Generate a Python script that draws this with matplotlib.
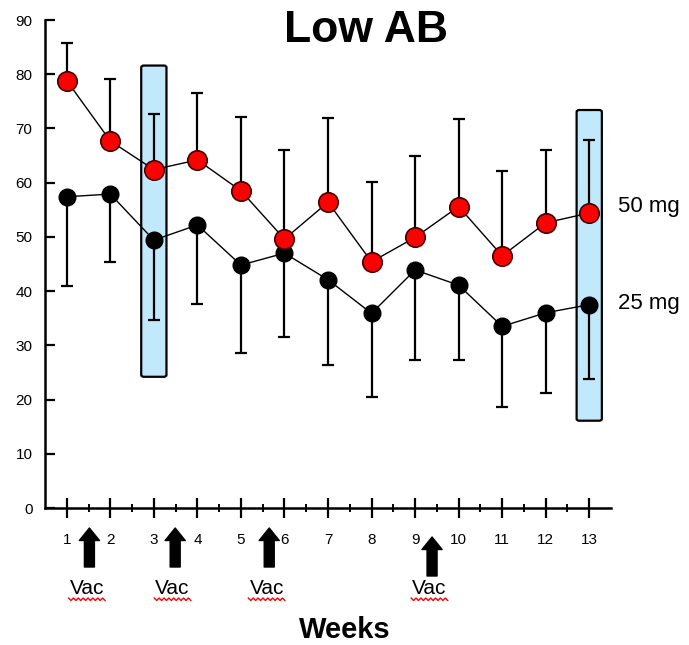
import numpy as np
import matplotlib.pyplot as plt
from matplotlib.patches import FancyBboxPatch
from matplotlib.transforms import blended_transform_factory

plt.rcParams['font.family'] = ['Liberation Sans', 'DejaVu Sans']

weeks = np.arange(1, 14)

# 50 mg group: means and upper error bar ends
mean_50 = [78.8, 67.7, 62.4, 64.2, 58.5, 49.6, 56.4, 45.4, 49.9, 55.6, 46.5, 52.6, 54.4]
upper_50 = [85.7, 79.1, 72.6, 76.5, 72.2, 66.1, 71.9, 60.1, 64.9, 71.8, 62.2, 66.1, 67.8]

# 25 mg group: means and lower error bar ends
mean_25 = [57.4, 57.9, 49.4, 52.2, 44.8, 47.0, 42.1, 35.9, 43.9, 41.1, 33.5, 36.0, 37.5]
lower_25 = [41.0, 45.4, 34.7, 37.6, 28.5, 31.6, 26.4, 20.5, 27.3, 27.3, 18.7, 21.2, 23.8]

# highlighted weeks (x range, y range of the shaded bars)
highlight_weeks = [3, 13]
highlight_low = [24.2, 16.1]
highlight_high = [81.6, 73.4]

# vaccination times (in weeks)
vac_weeks = [1.52, 3.49, 5.65, 9.39]

W, H = 689, 645
fig = plt.figure(figsize=(W / 100, H / 100), dpi=100)
ax = fig.add_axes([45 / W, 1 - 508 / H, (611 - 45) / W, (508 - 20) / H])

for wk, lo, hi in zip(highlight_weeks, highlight_low, highlight_high):
    box = FancyBboxPatch((wk - 0.29, lo), 0.58, hi - lo,
                         boxstyle="round,pad=0,rounding_size=0.06",
                         mutation_aspect=6,
                         facecolor="#c2e8fb", edgecolor="black",
                         linewidth=1.6, zorder=1)
    ax.add_patch(box)

m50 = np.array(mean_50)
m25 = np.array(mean_25)
ax.errorbar(weeks, m50, yerr=[np.zeros_like(m50), np.array(upper_50) - m50],
            fmt="none", ecolor="black", elinewidth=1.6, capsize=4, capthick=1.6,
            zorder=2)
ax.errorbar(weeks, m25, yerr=[m25 - np.array(lower_25), np.zeros_like(m25)],
            fmt="none", ecolor="black", elinewidth=1.6, capsize=4, capthick=1.6,
            zorder=2)

ax.plot(weeks, m25, "-", color="black", linewidth=1.0, zorder=3)
ax.plot(weeks, m25, "o", color="black", markersize=12, markeredgecolor="black",
        zorder=4)
ax.plot(weeks, m50, "-", color="black", linewidth=1.0, zorder=3)
ax.plot(weeks, m50, "o", markerfacecolor="#ff0000", markeredgecolor="#400000",
        markeredgewidth=1.2, markersize=14, zorder=5)

ax.set_xlim(0.5, 13.5)
ax.set_ylim(0, 90)
ax.set_xticks(weeks)
ax.set_xticks(np.arange(1.5, 13.5, 1), minor=True)
ax.set_yticks(np.arange(0, 91, 10))
ax.tick_params(axis="x", which="major", direction="inout", length=14, width=1.6,
               labelsize=11, pad=11)
ax.tick_params(axis="x", which="minor", direction="inout", length=6, width=1.4)
ax.tick_params(axis="y", direction="in", length=7, width=1.6, labelsize=11, pad=9)
for s in ("top", "right"):
    ax.spines[s].set_visible(False)
for s in ("left", "bottom"):
    ax.spines[s].set_linewidth(1.8)

# series labels at the right
ax.text(13.67, m50[-1] + 1.2, "50 mg", fontsize=16, va="center", ha="left")
ax.text(13.67, m25[-1] + 0.3, "25 mg", fontsize=16, va="center", ha="left")

fig.text(366 / W, 1 - 30 / H, "Low AB", fontsize=32, fontweight="bold",
         ha="center", va="center")
fig.text(345 / W, 1 - 630 / H, "Weeks", fontsize=21, fontweight="bold",
         ha="center", va="center")

# vaccination arrows and labels below the axis
trans = blended_transform_factory(ax.transData, fig.transFigure)
for i, vw in enumerate(vac_weeks):
    top = 528 if i < 3 else 537
    ax.annotate("", xy=(vw, 1 - top / H), xytext=(vw, 1 - (top + 39) / H),
                xycoords=trans, textcoords=trans,
                arrowprops=dict(arrowstyle="simple,head_length=0.9,head_width=1.45,tail_width=0.72",
                                color="black", shrinkA=0, shrinkB=0),
                annotation_clip=False)
    ax.text(vw - 0.06, 1 - 589 / H, "Vac", transform=trans, fontsize=15,
            ha="center", va="center", color="black")
    # red wavy underline
    n = 16
    xs = np.linspace(vw - 0.48, vw + 0.36, n)
    ys = 1 - (598 + np.where(np.arange(n) % 2 == 0, 0, 2.5)) / H
    ax.plot(xs, ys, color="red", linewidth=1.0, transform=trans, clip_on=False)

fig.savefig("out.png", dpi=100)
